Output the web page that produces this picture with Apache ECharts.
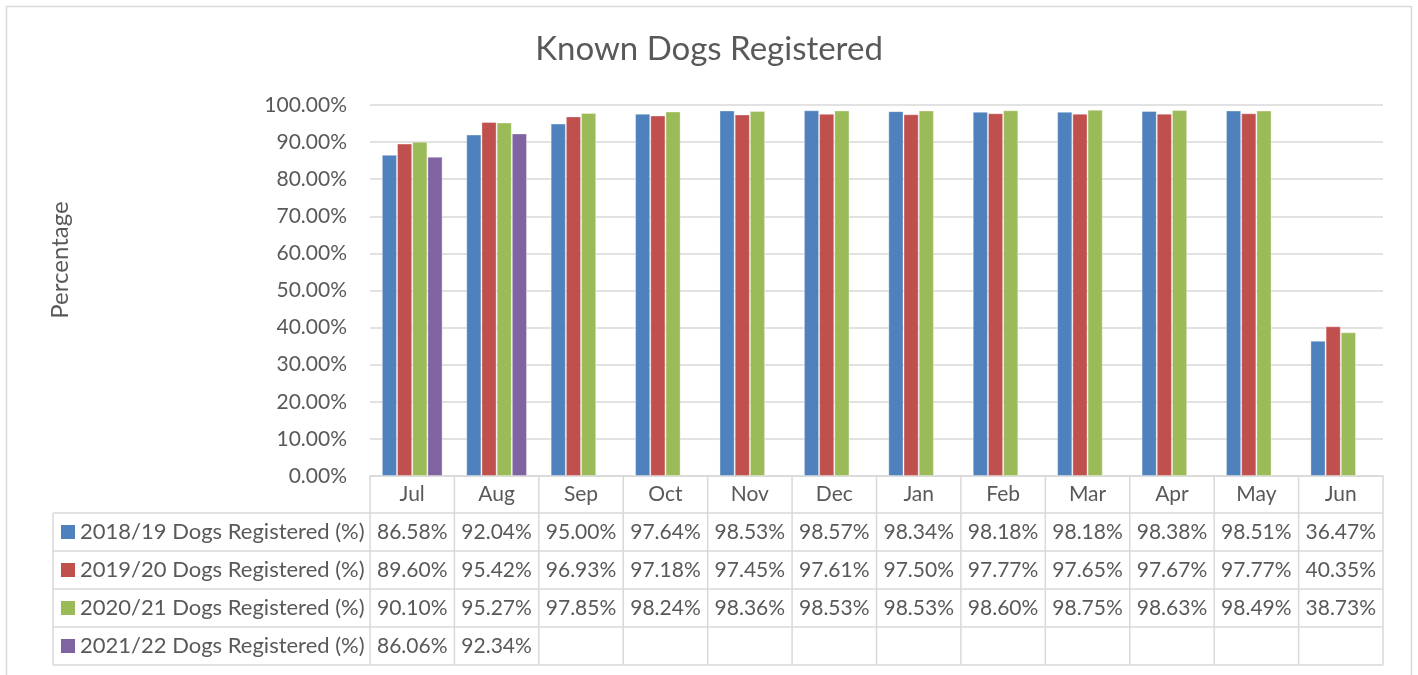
<!DOCTYPE html>
<html><head><meta charset="utf-8">
<script src="https://cdn.jsdelivr.net/npm/echarts@6/dist/echarts.min.js"></script>
<style>html,body{margin:0;padding:0;background:#fff}#c{width:1418px;height:675px}</style>
</head><body><div id="c"></div>
<script>
const months = ['Jul','Aug','Sep','Oct','Nov','Dec','Jan','Feb','Mar','Apr','May','Jun'];
const seriesNames = ['2018/19 Dogs Registered (%)','2019/20 Dogs Registered (%)','2020/21 Dogs Registered (%)','2021/22 Dogs Registered (%)'];
const s2018 = [86.58, 92.04, 95.00, 97.64, 98.53, 98.57, 98.34, 98.18, 98.18, 98.38, 98.51, 36.47];
const s2019 = [89.60, 95.42, 96.93, 97.18, 97.45, 97.61, 97.50, 97.77, 97.65, 97.67, 97.77, 40.35];
const s2020 = [90.10, 95.27, 97.85, 98.24, 98.36, 98.53, 98.53, 98.60, 98.75, 98.63, 98.49, 38.73];
const s2021 = [86.06, 92.34, null, null, null, null, null, null, null, null, null, null];
const yTicks = [0,10,20,30,40,50,60,70,80,90,100];
const allSeries = [s2018, s2019, s2020, s2021];
const colors = ['#4F81BD','#C0504D','#9BBB59','#8064A2'];
const FONT = 'Lato';
const TXT = '#595959';
const LINE = '#d9d9d9';
const FS = 21;

const chart = echarts.init(document.getElementById('c'), null, {renderer:'canvas'});
chart.setOption({
  animation: false,
  backgroundColor: '#fff',
  title: {
    text: 'Known Dogs Registered', left: 'center', top: 28,
    textStyle: {fontFamily: FONT, fontSize: 33, fontWeight: 'normal', color: TXT}
  },
  grid: {left: 370, right: 35, top: 105, bottom: 199, containLabel: false},
  xAxis: {
    type: 'category', data: months,
    axisLine: {show: true, lineStyle: {color: LINE, width: 1.5}},
    axisTick: {show: false},
    axisLabel: {color: TXT, fontFamily: FONT, fontSize: FS, margin: 8}
  },
  yAxis: {
    type: 'value', min: yTicks[0], max: yTicks[yTicks.length-1], interval: yTicks[1]-yTicks[0],
    axisLine: {show: false}, axisTick: {show: false},
    axisLabel: {color: TXT, fontFamily: FONT, fontSize: FS, margin: 23,
      formatter: v => v.toFixed(2) + '%'},
    splitLine: {lineStyle: {color: LINE, width: 1.5}}
  },
  series: allSeries.map((d, i) => ({
    name: seriesNames[i], type: 'bar', data: d,
    barGap: '0%', barCategoryGap: '28%',
    itemStyle: {color: colors[i], borderColor: 'rgba(255,255,255,0.35)', borderWidth: 1}
  }))
});

function drawTable(){
  const c0 = chart.convertToPixel({xAxisIndex: 0}, months[0]);
  const c1 = chart.convertToPixel({xAxisIndex: 0}, months[1]);
  const bw = c1 - c0;
  const gridLeft = c0 - bw / 2;
  const gridRight = gridLeft + bw * months.length;
  const yBase = chart.convertToPixel({yAxisIndex: 0}, 0);
  const headerH = 37, rowH = 38, tableLeft = 53;
  const rowsTop = yBase + headerH;
  const rowsBottom = rowsTop + rowH * seriesNames.length;
  const els = [];
  const ln = (x1, y1, x2, y2) => els.push({type: 'line', silent: true,
    shape: {x1, y1, x2, y2}, style: {stroke: LINE, lineWidth: 1.5}});
  els.push({type: 'rect', silent: true, shape: {x: 6.5, y: 6.5, width: 1405, height: 690},
    style: {fill: 'none', stroke: LINE, lineWidth: 1.5}});
  els.push({type: 'text', silent: true, x: 60, y: 260, rotation: Math.PI / 2,
    style: {text: 'Percentage', fill: TXT, fontFamily: FONT, fontSize: 24, align: 'center', verticalAlign: 'middle'}});
  for (let i = 0; i <= months.length; i++) {
    const x = gridLeft + i * bw;
    ln(x, yBase, x, rowsBottom);
  }
  ln(tableLeft, rowsTop, tableLeft, rowsBottom);
  for (let r = 0; r <= seriesNames.length; r++) {
    const y = rowsTop + r * rowH;
    ln(tableLeft, y, gridRight, y);
  }
  seriesNames.forEach((name, r) => {
    const cy = rowsTop + r * rowH + rowH / 2;
    els.push({type: 'rect', silent: true, shape: {x: 61, y: cy - 7, width: 14, height: 14},
      style: {fill: colors[r]}});
    els.push({type: 'text', silent: true, x: 80, y: cy,
      style: {text: name, fill: TXT, fontFamily: FONT, fontSize: 22, align: 'left', verticalAlign: 'middle'}});
    allSeries[r].forEach((v, i) => {
      if (v === null || v === undefined) return;
      els.push({type: 'text', silent: true, x: gridLeft + i * bw + bw / 2, y: cy,
        style: {text: v.toFixed(2) + '%', fill: TXT, fontFamily: FONT, fontSize: FS, align: 'center', verticalAlign: 'middle'}});
    });
  });
  chart.setOption({graphic: els});
}
drawTable();
</script>
</body></html>
